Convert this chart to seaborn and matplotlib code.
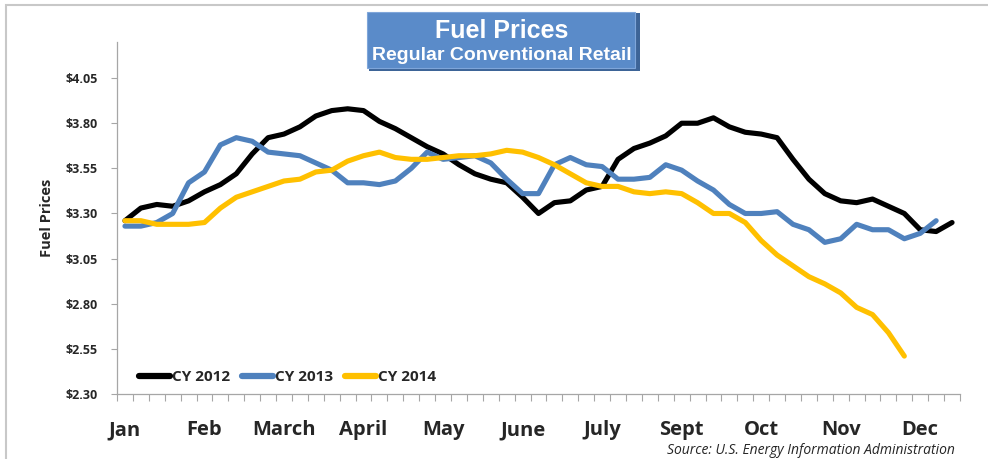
"""
Fuel prices chart: weekly regular conventional retail prices, CY 2012-2014.
"""

import numpy as np
import pandas as pd
import matplotlib
matplotlib.use("Agg")
import matplotlib.pyplot as plt
from matplotlib.patches import Rectangle
import seaborn as sns

# weekly prices
cy2012 = [3.26, 3.33, 3.35, 3.34, 3.37, 3.42, 3.46, 3.52, 3.63, 3.72, 3.74,
          3.78, 3.84, 3.87, 3.88, 3.87, 3.81, 3.77, 3.72, 3.67, 3.63, 3.57,
          3.52, 3.49, 3.47, 3.39, 3.30, 3.36, 3.37, 3.43, 3.45, 3.60, 3.66,
          3.69, 3.73, 3.80, 3.80, 3.83, 3.78, 3.75, 3.74, 3.72, 3.60, 3.49,
          3.41, 3.37, 3.36, 3.38, 3.34, 3.30, 3.21, 3.20, 3.25]
cy2013 = [3.23, 3.23, 3.25, 3.30, 3.47, 3.53, 3.68, 3.72, 3.70, 3.64, 3.63,
          3.62, 3.58, 3.54, 3.47, 3.47, 3.46, 3.48, 3.55, 3.64, 3.60, 3.61,
          3.62, 3.58, 3.49, 3.41, 3.41, 3.57, 3.61, 3.57, 3.56, 3.49, 3.49,
          3.50, 3.57, 3.54, 3.48, 3.43, 3.35, 3.30, 3.30, 3.31, 3.24, 3.21,
          3.14, 3.16, 3.24, 3.21, 3.21, 3.16, 3.19, 3.26]
cy2014 = [3.26, 3.26, 3.24, 3.24, 3.24, 3.25, 3.33, 3.39, 3.42, 3.45, 3.48,
          3.49, 3.53, 3.54, 3.59, 3.62, 3.64, 3.61, 3.60, 3.60, 3.61, 3.62,
          3.62, 3.63, 3.65, 3.64, 3.61, 3.57, 3.52, 3.47, 3.45, 3.45, 3.42,
          3.41, 3.42, 3.41, 3.36, 3.30, 3.30, 3.25, 3.15, 3.07, 3.01, 2.95,
          2.91, 2.86, 2.78, 2.74, 2.64, 2.51]

series_names = ["CY 2012", "CY 2013", "CY 2014"]
series_colors = ["#000000", "#4F81BD", "#FFC000"]

month_labels = ["Jan", "Feb", "March", "April", "May", "June", "July",
                "Sept", "Oct", "Nov", "Dec"]
month_weeks = [0, 5, 10, 15, 20, 25, 30, 35, 40, 45, 50]

y_ticks = [2.30, 2.55, 2.80, 3.05, 3.30, 3.55, 3.80, 4.05]
n_weeks = 53

# long table for seaborn
frames = []
for name, vals in zip(series_names, [cy2012, cy2013, cy2014]):
    frames.append(pd.DataFrame({"week": np.arange(len(vals)),
                                "price": vals, "year": name}))
df = pd.concat(frames, ignore_index=True)

sns.set_theme(style="white")
plt.rcParams["font.family"] = ["Open Sans", "DejaVu Sans"]

W, H = 988, 459
fig = plt.figure(figsize=(W / 100, H / 100), dpi=100)
ax = fig.add_axes([117 / W, 1 - 394 / H, (960 - 117) / W, (394 - 42) / H])

sns.lineplot(data=df, x="week", y="price", hue="year",
             palette=dict(zip(series_names, series_colors)),
             linewidth=3.7, sort=False, ax=ax, legend=False,
             solid_capstyle="round", solid_joinstyle="round")

ax.set_xlim(-0.5, n_weeks - 0.5)
ax.set_ylim(2.30, 4.25)

# y axis
ax.set_yticks(y_ticks)
ax.set_yticklabels([f"${v:.2f}" for v in y_ticks], fontsize=9,
                   fontweight="bold")
ax.tick_params(axis="y", direction="out", length=4, width=0.8,
               color="#A6A6A6", pad=10, left=True)

# x axis: labels at month weeks, minor ticks between weeks
ax.set_xticks(month_weeks)
ax.set_xticklabels(month_labels, fontsize=14.5, fontweight="bold")
ax.tick_params(axis="x", which="major", length=0, pad=19)
ax.set_xticks(np.arange(n_weeks + 1) - 0.5, minor=True)
ax.tick_params(axis="x", which="minor", direction="out", length=5,
               width=0.8, color="#A6A6A6", bottom=True)

ax.set_xlabel("")
ax.set_ylabel("Fuel Prices", fontsize=10.5, fontweight="bold", labelpad=8)

for side in ["top", "right"]:
    ax.spines[side].set_visible(False)
for side in ["left", "bottom"]:
    ax.spines[side].set_color("#A6A6A6")
    ax.spines[side].set_linewidth(0.9)
ax.grid(False)

# legend
handles = ax.get_lines()[:3]
leg = ax.legend(handles, series_names, loc="center left",
                bbox_to_anchor=((139 - 117) / 843, (394 - 377) / 352),
                ncol=3, frameon=False, handlelength=2.0, handletextpad=0.15,
                columnspacing=0.8, borderpad=0, borderaxespad=0,
                prop={"weight": "bold", "size": 11})
for line in leg.get_lines():
    line.set_linewidth(4.5)
    line.set_solid_capstyle("round")

# outer frame
fig.patches.append(Rectangle((6 / W, -0.1), 1.2, 1 - 5 / H + 0.1,
                             transform=fig.transFigure, fill=False,
                             edgecolor="#C8C8C8", linewidth=1.5))

# title box
fig.patches.append(Rectangle((369 / W, 1 - 71 / H), 271 / W, 58 / H,
                             transform=fig.transFigure,
                             facecolor="#3D6497", edgecolor="none"))
fig.patches.append(Rectangle((367 / W, 1 - 68 / H), 268 / W, 56 / H,
                             transform=fig.transFigure,
                             facecolor="#5A8BC9", edgecolor="#7FA6DA",
                             linewidth=0.8))
fig.text(502 / W, 1 - 31 / H, "Fuel Prices", color="white", fontsize=18,
         fontweight="bold", ha="center", va="center",
         family=["Liberation Sans", "DejaVu Sans"])
fig.text(502 / W, 1 - 56 / H, "Regular Conventional Retail", color="white",
         fontsize=14, fontweight="bold", ha="center", va="center",
         family=["Liberation Sans", "DejaVu Sans"])

fig.text(955 / W, 1 - 451 / H,
         "Source: U.S. Energy Information Administration",
         fontsize=10, style="italic", ha="right", va="center")

fig.savefig("out.png", dpi=100)
